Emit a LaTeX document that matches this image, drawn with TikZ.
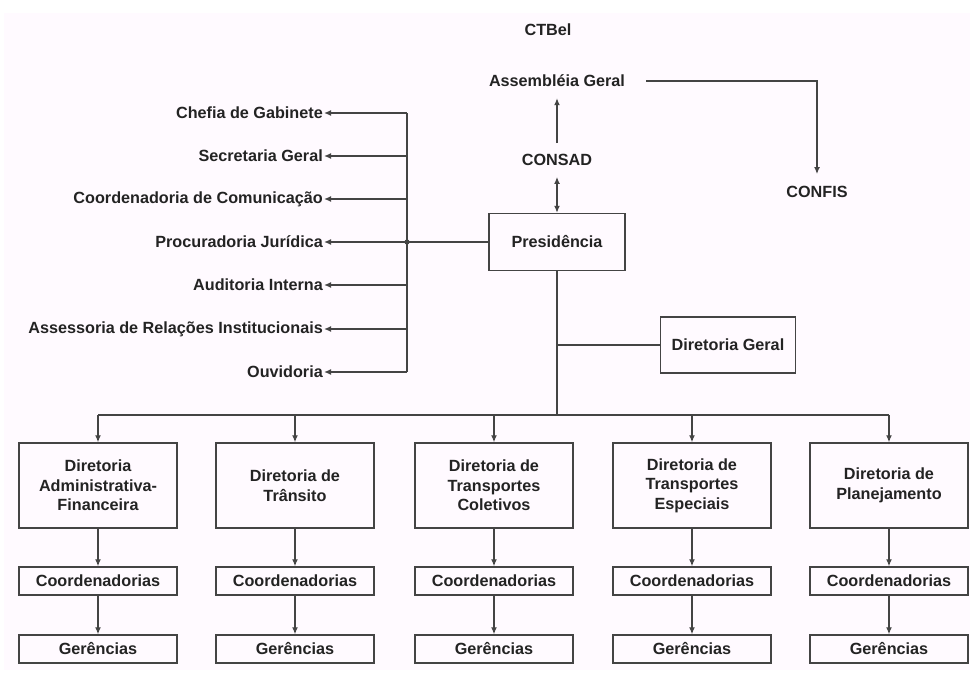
\documentclass[tikz,border=0pt]{standalone}
\usepackage{fontspec}
\setmainfont{Liberation Sans}
\usetikzlibrary{arrows.meta}
\definecolor{paper}{HTML}{FFFAFF}
\definecolor{ink}{HTML}{232323}
\definecolor{wirecol}{HTML}{444444}
\begin{document}
\begin{tikzpicture}[x=1pt,y=-1pt,
  lbl/.style={font=\fontsize{16.2}{19.5}\selectfont\bfseries, text=ink, inner sep=0pt},
  box/.style={lbl, draw=wirecol, line width=1.4pt, fill=paper, align=center},
  dbox/.style={box, minimum width=158pt, minimum height=85pt},
  sbox/.style={box, minimum width=158pt, minimum height=28pt},
  link/.style={draw=wirecol, line width=1.3pt},
  arr/.style={link, -{Latex[length=7pt,width=6pt]}},
  darr/.style={link, {Latex[length=7pt,width=6pt]}-{Latex[length=7pt,width=6pt]}}
]
\useasboundingbox (0,0) rectangle (970,679);
\fill[paper] (4,13) rectangle (970,670);

% top of the hierarchy
\node[lbl] (ctbel) at (548,30) {CTBel};
\node[lbl] (ag) at (557,81) {Assembléia Geral};
\node[lbl] (consad) at (557,160) {CONSAD};
\node[lbl] (confis) at (817,192) {CONFIS};
\node[box, minimum width=136pt, minimum height=57pt] (pres) at (557,242) {Presidência};
\node[box, minimum width=135pt, minimum height=56pt] (dg) at (728,345) {Diretoria Geral};

\draw[arr, shorten <=11pt, shorten >=11pt] (consad.north) -- (ag.south);
\draw[darr, shorten <=11pt] (consad.south) -- (pres.north);
\draw[arr, shorten <=21pt, shorten >=12pt] (ag.east) -| (confis.north);

% advisory units on the left
\coordinate (vbus) at (407,242);
\node[lbl, anchor=east] (l1) at (323,113) {Chefia de Gabinete};
\node[lbl, anchor=east] (l2) at (323,156) {Secretaria Geral};
\node[lbl, anchor=east] (l3) at (323,199) {Coordenadoria de Comunicação};
\node[lbl, anchor=east] (l4) at (323,242) {Procuradoria Jurídica};
\node[lbl, anchor=east] (l5) at (323,285) {Auditoria Interna};
\node[lbl, anchor=east] (l6) at (323,329) {Assessoria de Relações Institucionais};
\node[lbl, anchor=east] (l7) at (323,372) {Ouvidoria};

\draw[link] (pres.west) -- (vbus);
\draw[link] (l1.east -| vbus) -- (l7.east -| vbus);
\fill[wirecol] (vbus) circle (2.6pt);
\foreach \n in {l1,l2,l3,l4,l5,l6,l7}
  \draw[arr, shorten >=1pt] (\n.east -| vbus) -- (\n.east);

% directorates
\node[dbox] (d1) at (98,485.5)  {Diretoria\\Administrativa-\\Financeira};
\node[dbox] (d2) at (295,485.5) {Diretoria de\\Trânsito};
\node[dbox] (d3) at (494,485.5) {Diretoria de\\Transportes\\Coletivos};
\node[dbox] (d4) at (692,485.5) {Diretoria de\\Transportes\\Especiais};
\node[dbox] (d5) at (889,485.5) {Diretoria de\\Planejamento};

\coordinate (bus) at (557,415);
\draw[link] (pres.south) -- (bus);
\draw[link] (dg.west) -- (dg.west -| pres.south);
\draw[link] (d1.north |- bus) -- (d5.north |- bus);

\foreach \k in {1,...,5} {
  \node[sbox] (c\k) at (d\k.center |- 0,581) {Coordenadorias};
  \node[sbox] (g\k) at (d\k.center |- 0,649) {Gerências};
  \draw[arr] (d\k.north |- bus) -- (d\k.north);
  \draw[arr] (d\k.south) -- (c\k.north);
  \draw[arr] (c\k.south) -- (g\k.north);
}
\end{tikzpicture}
\end{document}
